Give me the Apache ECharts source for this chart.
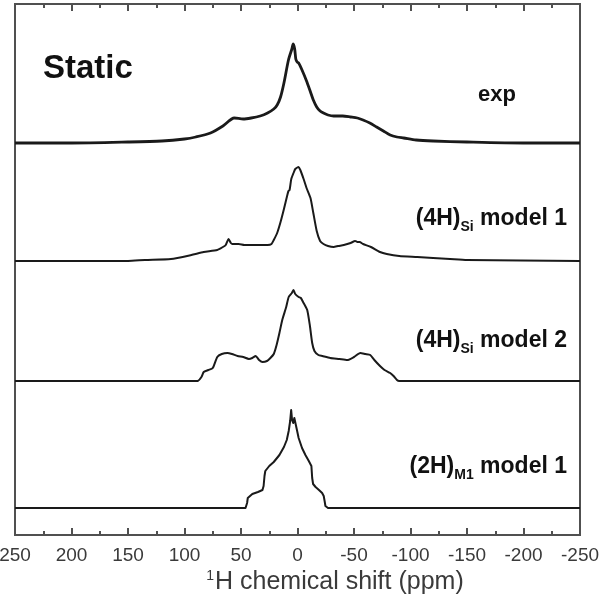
<!DOCTYPE html>
<html>
<head>
<meta charset="utf-8">
<script src="https://cdn.jsdelivr.net/npm/echarts@6/dist/echarts.min.js"></script>
<style>
  html, body { margin: 0; padding: 0; background: #ffffff; }
  #chart { width: 603px; height: 600px; }
</style>
</head>
<body>
<div id="chart"></div>
<script>
// 1H static NMR spectra: experiment and three simulated models (ppm vs intensity)
const expShift = [250, 200, 150, 120, 100, 90, 77, 66, 56, 48, 41, 33, 26.5, 21, 18, 15, 12, 8, 5, 3.8, 2.5, 1.5, 0.3, -1, -4, -8, -11.5, -14, -17, -20, -23, -27, -32, -40, -47, -53, -58, -64, -70, -76, -82, -88, -94, -105, -120, -150, -200, -250];
const expIntensity = [0, 0, 1, 2, 4, 6, 10, 17, 25, 24, 25, 27, 30, 34, 38, 46, 60, 83, 94, 99, 94, 84, 81, 80, 73, 62, 51, 43, 36, 32, 30, 28, 27, 27, 26, 25, 23, 20, 16, 12, 8, 6, 5, 3, 2, 1, 0, 0];

const si1Shift = [250, 150, 135, 112, 94, 83, 71, 66, 63.5, 61, 59, 57.6, 52, 47, 40, 33, 26.5, 23, 21, 18, 15, 12, 9, 8, 7, 5.5, 3.5, 2, -1, -2.5, -5.4, -8, -11.5, -14, -17, -20, -23, -27, -32, -36, -41, -47, -51, -53, -55, -58, -65, -73, -79, -90, -106, -120, -135, -150, -250];
const si1Intensity = [0, 0, 1, 2, 6, 9, 11, 14, 16, 22, 18, 17, 17, 16, 16, 16, 16, 17, 21, 28, 39, 52, 66, 70, 71, 82, 88, 92, 94, 91, 82, 73, 63, 48, 30, 20, 17, 15, 14, 15, 16, 18, 20, 19, 19, 17, 14, 9, 7, 5, 4, 3, 2, 1, 0];

const si2Shift = [250, 95, 88.5, 85, 83, 79, 75, 71, 67, 62, 58, 53, 48, 43, 40, 37, 34, 31, 27, 24, 21, 18.5, 16, 13.5, 10, 7.8, 5, 3.5, 2, -1, -3, -5.4, -8.6, -11, -13, -15, -18.5, -22, -29, -37, -44, -50, -55.6, -60, -64.4, -68, -73, -77, -82, -85, -88, -90, -250];
const si2Intensity = [0, 0, 0, 4, 9, 11, 13, 24, 27, 28, 27, 25, 24, 22, 23, 25, 21, 19, 20, 23, 27, 36, 48, 61, 74, 84, 88, 91, 87, 84, 83, 78, 71, 55, 38, 30, 26, 25, 23, 22, 21, 24, 28, 27, 26, 21, 15, 11, 8, 5, 1, 0, 0];

const m1Shift = [250, 46, 45.2, 44.6, 44, 43, 40, 35, 31, 30, 29.2, 28.5, 27.5, 25, 21, 16, 12, 9.5, 7.8, 6.5, 5.6, 4.8, 3.8, 2.8, 1.8, 0.5, -1, -4, -7, -10, -11.5, -12.3, -13, -13.8, -16, -19, -21.8, -23.2, -24, -24.7, -25.5, -27, -250];
const m1Intensity = [0, 0, 1, 5, 10, 12, 14, 16, 18, 22, 32, 37, 39, 42, 46, 53, 61, 68, 77, 87, 98, 88, 85, 90, 88, 78, 70, 60, 53, 47, 46, 42, 30, 24, 21, 18, 15, 12, 7, 2, 0.5, 0, 0];

// vertical stacking of the traces (same units as the intensities)
const traceOffsets = [392, 274, 154, 27];
const xTicks = [250, 200, 150, 100, 50, 0, -50, -100, -150, -200, -250];

const FONT = '"Liberation Sans", Arial, Helvetica, sans-serif';

function stack(shift, intensity, offset) {
  return shift.map((x, i) => [x, intensity[i] + offset]);
}

const chart = echarts.init(document.getElementById('chart'), null, { renderer: 'canvas' });

const axisCommon = {
  type: 'value',
  min: xTicks[xTicks.length - 1],
  max: xTicks[0],
  interval: 50,
  inverse: true,
  axisLine: { show: true, onZero: false, lineStyle: { color: '#505050', width: 2 } },
  axisTick: { show: true, inside: true, length: 7, lineStyle: { color: '#505050', width: 2 } },
  minorTick: { show: true, splitNumber: 2, length: 4, lineStyle: { color: '#505050', width: 2 } },
  splitLine: { show: false }
};

const lineSeries = (name, data, width, smooth) => ({
  name,
  type: 'line',
  data,
  showSymbol: false,
  symbol: 'none',
  smooth: smooth,
  silent: true,
  lineStyle: { color: '#1a1a1a', width: width, join: 'round' },
  xAxisIndex: 0,
  yAxisIndex: 0
});

const labelStyle = {
  fill: '#111',
  font: 'bold 23px ' + FONT,
  textAlign: 'right',
  textVerticalAlign: 'middle'
};

const richSub = {
  sub: { fontSize: 14, fontWeight: 'bold', fontFamily: FONT, padding: [16, 0, 0, 0], verticalAlign: 'bottom' }
};

chart.setOption({
  animation: false,
  backgroundColor: '#ffffff',
  grid: {
    left: 15, right: 23, top: 4, bottom: 65,
    containLabel: false,
    outerBoundsMode: 'none',
    show: true, borderColor: '#505050', borderWidth: 2, backgroundColor: 'transparent'
  },
  xAxis: [
    Object.assign({}, axisCommon, {
      position: 'bottom',
      axisLabel: { show: true, margin: 11, fontSize: 19, color: '#3a3a3a', fontFamily: FONT }
    }),
    Object.assign({}, axisCommon, {
      position: 'top',
      axisLabel: { show: false }
    })
  ],
  yAxis: { type: 'value', min: 0, max: 531, show: false },
  series: [
    lineSeries('exp', stack(expShift, expIntensity, traceOffsets[0]), 2.8, 0.25),
    lineSeries('(4H)Si model 1', stack(si1Shift, si1Intensity, traceOffsets[1]), 2, 0.2),
    lineSeries('(4H)Si model 2', stack(si2Shift, si2Intensity, traceOffsets[2]), 2, 0.2),
    lineSeries('(2H)M1 model 1', stack(m1Shift, m1Intensity, traceOffsets[3]), 2, false)
  ],
  graphic: [
    { type: 'text', left: 43, top: 52, style: { text: 'Static', fill: '#111', font: 'bold 33px ' + FONT } },
    { type: 'text', x: 516, y: 95, style: Object.assign({}, labelStyle, { text: 'exp', font: 'bold 22px ' + FONT }) },
    { type: 'text', x: 567, y: 219, style: Object.assign({}, labelStyle, { text: '(4H){sub|Si} model 1', rich: richSub }) },
    { type: 'text', x: 567, y: 341, style: Object.assign({}, labelStyle, { text: '(4H){sub|Si} model 2', rich: richSub }) },
    { type: 'text', x: 567, y: 467, style: Object.assign({}, labelStyle, { text: '(2H){sub|M1} model 1', rich: richSub }) },
    {
      type: 'text', x: 335, y: 582,
      style: {
        text: '{sup|1}H chemical shift (ppm)',
        fill: '#3a3a3a', font: '25px ' + FONT,
        textAlign: 'center', textVerticalAlign: 'middle',
        rich: { sup: { fontSize: 14, fontFamily: FONT, fill: '#3a3a3a', padding: [0, 1, 12, 0], verticalAlign: 'top' } }
      }
    }
  ]
});
</script>
</body>
</html>
